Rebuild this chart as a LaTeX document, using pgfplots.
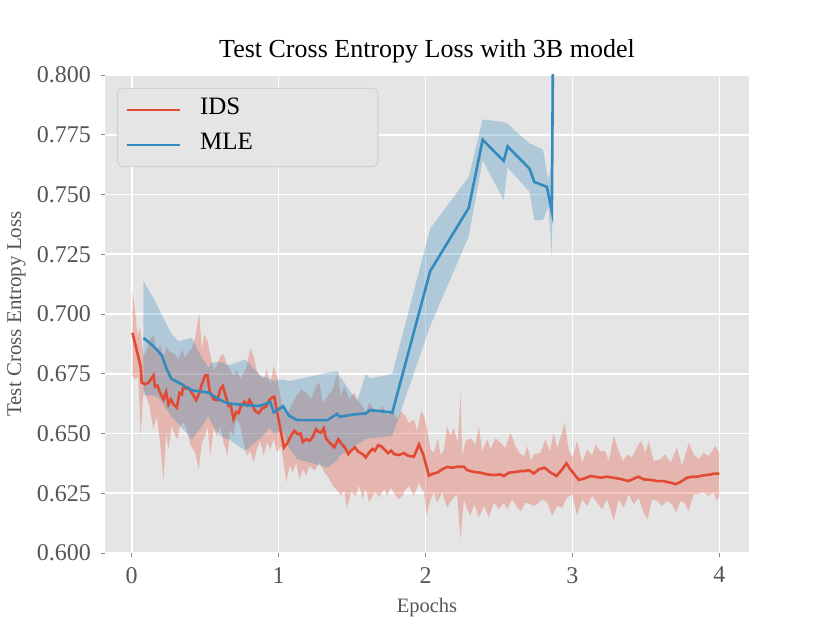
\documentclass[border=0pt]{standalone}
\usepackage{fontspec}
\setmainfont{Liberation Serif}
\usepackage{pgfplots}
\pgfplotsset{compat=1.18}
\usepgfplotslibrary{fillbetween}
\definecolor{axbg}{HTML}{E5E5E5}
\definecolor{idsred}{HTML}{E24A33}
\definecolor{mleblue}{HTML}{348ABD}
\definecolor{tickgray}{HTML}{555555}
\begin{document}
\begin{tikzpicture}
\begin{axis}[
  width=644bp, height=478bp, scale only axis,
  xmin=-0.182, xmax=4.202, ymin=0.6, ymax=0.8,
  axis background/.style={fill=axbg},
  axis line style={draw=none},
  grid=major, major grid style={white, line width=1.6bp},
  tick align=outside, major tick length=4bp,
  tick style={tickgray!70, line width=0.8bp},
  xtick pos=bottom, ytick pos=left,
  xtick={0,1,2,3,4}, xticklabels={0,1,2,3,4},
  ytick={0.6,0.625,0.65,0.675,0.7,0.725,0.75,0.775,0.8},
  yticklabels={0.600,0.625,0.650,0.675,0.700,0.725,0.750,0.775,0.800},
  xticklabel style={font=\fontsize{24bp}{28bp}\selectfont, text=tickgray, inner sep=0pt, anchor=north, yshift=-10bp},
  yticklabel style={font=\fontsize{24bp}{28bp}\selectfont, text=tickgray, inner sep=0pt, anchor=east, xshift=-10bp},
  title={Test Cross Entropy Loss with 3B model},
  title style={font=\fontsize{26bp}{30bp}\selectfont, at={(0.5,1.0231)}, anchor=base, inner sep=0pt},
  xlabel={Epochs},
  xlabel style={font=\fontsize{20.5bp}{24bp}\selectfont, text=tickgray, at={(0.5,-0.1255)}, anchor=base, inner sep=0pt},
  ylabel={Test Cross Entropy Loss},
  ylabel style={font=\fontsize{21bp}{24bp}\selectfont, text=tickgray, at={(-0.1304,0.5)}, anchor=base, inner sep=0pt},
  legend cell align=left,
  legend style={at={(0.0186,0.9728)}, anchor=north west, fill=axbg, draw=black!18, line width=1bp,
    rounded corners=5bp, font=\fontsize{25bp}{30bp}\selectfont, inner xsep=8bp, inner ysep=4bp,
    nodes={inner xsep=0pt, inner ysep=5.5bp, text height=16.5bp, text depth=7.5bp},
    /tikz/every odd column/.append style={column sep=19bp}},
  legend image code/.code={\draw[#1, line width=2.6bp] (0bp,0bp) -- (53bp,0bp);},
]
% IDS band
\addplot[name path=idsU, draw=none, forget plot] coordinates {
(0.005,0.7094)(0.023,0.7018)(0.039,0.6907)(0.052,0.6942)(0.061,0.6921)(0.080,0.6824)(0.102,0.6851)(0.125,0.6893)(0.148,0.6914)(0.170,0.6838)(0.193,0.6872)(0.216,0.6824)(0.239,0.6865)(0.261,0.6838)(0.284,0.6838)(0.318,0.6810)(0.341,0.6851)(0.364,0.6817)(0.386,0.6838)(0.409,0.6858)(0.432,0.6900)(0.459,0.7004)(0.477,0.6851)(0.493,0.6914)(0.516,0.6886)(0.534,0.6831)(0.557,0.6768)(0.580,0.6782)(0.602,0.6824)(0.625,0.6831)(0.648,0.6789)(0.670,0.6768)(0.693,0.6740)(0.716,0.6768)(0.739,0.6726)(0.761,0.6754)(0.784,0.6782)(0.807,0.6858)(0.830,0.6824)(0.852,0.6761)(0.875,0.6740)(0.898,0.6726)(0.920,0.6768)(0.943,0.6706)(0.966,0.6782)(0.977,0.6761)(0.995,0.6726)(1.018,0.6629)(1.052,0.6574)(1.086,0.6615)(1.120,0.6657)(1.153,0.6685)(1.187,0.6671)(1.221,0.6643)(1.255,0.6699)(1.278,0.6713)(1.300,0.6629)(1.334,0.6657)(1.368,0.6685)(1.402,0.6754)(1.424,0.6657)(1.447,0.6699)(1.481,0.6643)(1.515,0.6671)(1.542,0.6636)(1.571,0.6615)(1.594,0.6587)(1.616,0.6629)(1.650,0.6601)(1.673,0.6587)(1.707,0.6615)(1.740,0.6574)(1.774,0.6601)(1.808,0.6560)(1.830,0.6593)(1.864,0.6572)(1.887,0.6544)(1.921,0.6558)(1.943,0.6510)(1.970,0.6593)(1.993,0.6570)(2.011,0.6517)(2.034,0.6433)(2.057,0.6419)(2.084,0.6480)(2.102,0.6410)(2.125,0.6430)(2.147,0.6530)(2.170,0.6490)(2.193,0.6524)(2.220,0.6460)(2.238,0.6670)(2.250,0.6406)(2.272,0.6468)(2.306,0.6480)(2.340,0.6454)(2.363,0.6530)(2.385,0.6426)(2.420,0.6475)(2.442,0.6433)(2.476,0.6480)(2.510,0.6461)(2.544,0.6440)(2.578,0.6503)(2.612,0.6447)(2.646,0.6413)(2.673,0.6406)(2.692,0.6447)(2.719,0.6385)(2.737,0.6413)(2.782,0.6419)(2.816,0.6475)(2.846,0.6426)(2.873,0.6503)(2.896,0.6440)(2.918,0.6480)(2.946,0.6544)(2.975,0.6433)(2.998,0.6399)(3.032,0.6468)(3.066,0.6378)(3.100,0.6433)(3.134,0.6406)(3.156,0.6454)(3.190,0.6426)(3.224,0.6426)(3.247,0.6385)(3.281,0.6490)(3.315,0.6426)(3.345,0.6385)(3.372,0.6413)(3.406,0.6399)(3.444,0.6447)(3.467,0.6468)(3.497,0.6419)(3.519,0.6468)(3.553,0.6385)(3.599,0.6392)(3.633,0.6413)(3.667,0.6378)(3.712,0.6440)(3.746,0.6364)(3.792,0.6461)(3.825,0.6413)(3.859,0.6392)(3.893,0.6419)(3.927,0.6406)(3.973,0.6447)(4.000,0.6420)
};
\addplot[name path=idsL, draw=none, forget plot] coordinates {
(0.005,0.6740)(0.023,0.6726)(0.045,0.6740)(0.061,0.6490)(0.080,0.6685)(0.098,0.6657)(0.120,0.6615)(0.148,0.6518)(0.170,0.6574)(0.193,0.6463)(0.216,0.6303)(0.234,0.6504)(0.250,0.6435)(0.273,0.6532)(0.295,0.6490)(0.311,0.6476)(0.330,0.6532)(0.352,0.6546)(0.375,0.6518)(0.400,0.6450)(0.432,0.6420)(0.456,0.6351)(0.477,0.6463)(0.500,0.6490)(0.516,0.6532)(0.534,0.6407)(0.557,0.6518)(0.580,0.6490)(0.602,0.6532)(0.625,0.6463)(0.652,0.6407)(0.670,0.6518)(0.693,0.6490)(0.711,0.6560)(0.739,0.6532)(0.761,0.6463)(0.784,0.6407)(0.807,0.6428)(0.830,0.6379)(0.852,0.6435)(0.875,0.6469)(0.898,0.6407)(0.920,0.6463)(0.943,0.6435)(0.966,0.6476)(0.989,0.6421)(1.018,0.6449)(1.052,0.6296)(1.075,0.6365)(1.097,0.6338)(1.120,0.6379)(1.142,0.6310)(1.165,0.6351)(1.187,0.6324)(1.210,0.6365)(1.244,0.6344)(1.278,0.6379)(1.312,0.6338)(1.345,0.6310)(1.368,0.6282)(1.390,0.6268)(1.424,0.6240)(1.447,0.6261)(1.465,0.6185)(1.492,0.6254)(1.526,0.6240)(1.548,0.6282)(1.571,0.6226)(1.594,0.6268)(1.616,0.6213)(1.639,0.6240)(1.661,0.6254)(1.684,0.6233)(1.718,0.6268)(1.740,0.6240)(1.763,0.6275)(1.797,0.6240)(1.819,0.6226)(1.842,0.6240)(1.864,0.6267)(1.887,0.6280)(1.921,0.6239)(1.955,0.6294)(1.989,0.6253)(2.007,0.6156)(2.034,0.6225)(2.057,0.6253)(2.079,0.6211)(2.113,0.6253)(2.147,0.6190)(2.181,0.6225)(2.215,0.6246)(2.238,0.6058)(2.261,0.6225)(2.283,0.6183)(2.306,0.6156)(2.333,0.6204)(2.363,0.6149)(2.397,0.6197)(2.431,0.6149)(2.465,0.6211)(2.499,0.6183)(2.533,0.6211)(2.556,0.6183)(2.590,0.6225)(2.624,0.6190)(2.651,0.6176)(2.680,0.6211)(2.714,0.6204)(2.737,0.6197)(2.760,0.6204)(2.794,0.6225)(2.828,0.6211)(2.862,0.6156)(2.896,0.6197)(2.930,0.6190)(2.964,0.6232)(2.998,0.6246)(3.032,0.6156)(3.066,0.6225)(3.100,0.6197)(3.134,0.6239)(3.168,0.6211)(3.202,0.6183)(3.236,0.6225)(3.281,0.6135)(3.315,0.6225)(3.349,0.6190)(3.383,0.6246)(3.417,0.6204)(3.451,0.6232)(3.485,0.6169)(3.512,0.6142)(3.542,0.6225)(3.576,0.6218)(3.610,0.6197)(3.644,0.6218)(3.678,0.6204)(3.707,0.6169)(3.735,0.6218)(3.762,0.6211)(3.791,0.6176)(3.825,0.6246)(3.859,0.6246)(3.893,0.6253)(3.927,0.6239)(3.961,0.6253)(3.984,0.6218)(4.000,0.6239)
};
\addplot[fill=idsred, fill opacity=0.3, draw=none, forget plot] fill between[of=idsU and idsL];
% MLE band
\addplot[name path=mleU, draw=none, forget plot] coordinates {
(0.080,0.7136)(0.136,0.7080)(0.182,0.7025)(0.266,0.6921)(0.318,0.6886)(0.409,0.6900)(0.466,0.6830)(0.523,0.6775)(0.545,0.6796)(0.602,0.6800)(0.659,0.6785)(0.773,0.6810)(0.875,0.6742)(0.943,0.6728)(0.967,0.6720)(1.030,0.6726)(1.070,0.6720)(1.126,0.6726)(1.332,0.6754)(1.402,0.6761)(1.415,0.6740)(1.535,0.6636)(1.594,0.6750)(1.622,0.6730)(1.774,0.6750)(2.032,0.7358)(2.294,0.7574)(2.389,0.7814)(2.532,0.7803)(2.559,0.7795)(2.708,0.7713)(2.740,0.7706)(2.799,0.7688)(2.837,0.7560)(2.860,0.7643)(2.873,0.8800)
};
\addplot[name path=mleL, draw=none, forget plot] coordinates {
(0.080,0.6660)(0.136,0.6660)(0.182,0.6650)(0.266,0.6575)(0.318,0.6540)(0.409,0.6475)(0.466,0.6520)(0.523,0.6574)(0.545,0.6540)(0.602,0.6490)(0.659,0.6476)(0.773,0.6428)(0.875,0.6480)(0.943,0.6525)(0.967,0.6500)(1.030,0.6510)(1.070,0.6440)(1.126,0.6393)(1.332,0.6358)(1.402,0.6390)(1.415,0.6407)(1.535,0.6455)(1.594,0.6476)(1.622,0.6480)(1.774,0.6490)(2.032,0.6950)(2.294,0.7324)(2.389,0.7643)(2.532,0.7476)(2.559,0.7613)(2.708,0.7511)(2.740,0.7393)(2.799,0.7393)(2.837,0.7450)(2.860,0.7240)(2.873,0.8400)
};
\addplot[fill=mleblue, fill opacity=0.3, draw=none, forget plot] fill between[of=mleU and mleL];
% IDS mean
\addplot[idsred, line width=2.6bp] coordinates {
(0.005,0.6921)(0.061,0.6780)(0.068,0.6713)(0.091,0.6706)(0.114,0.6713)(0.148,0.6743)(0.159,0.6696)(0.175,0.6700)(0.193,0.6670)(0.216,0.6643)(0.234,0.6674)(0.250,0.6622)(0.266,0.6643)(0.284,0.6622)(0.307,0.6608)(0.325,0.6670)(0.341,0.6664)(0.352,0.6699)(0.370,0.6688)(0.386,0.6692)(0.409,0.6670)(0.439,0.6640)(0.461,0.6670)(0.477,0.6706)(0.500,0.6743)(0.516,0.6743)(0.530,0.6678)(0.557,0.6643)(0.584,0.6640)(0.602,0.6685)(0.620,0.6699)(0.643,0.6650)(0.659,0.6615)(0.675,0.6615)(0.693,0.6560)(0.711,0.6590)(0.727,0.6585)(0.743,0.6615)(0.766,0.6632)(0.784,0.6618)(0.802,0.6640)(0.818,0.6622)(0.841,0.6594)(0.864,0.6585)(0.886,0.6604)(0.916,0.6613)(0.939,0.6643)(0.955,0.6650)(0.970,0.6654)(0.995,0.6574)(1.036,0.6442)(1.063,0.6463)(1.090,0.6497)(1.108,0.6511)(1.131,0.6497)(1.149,0.6500)(1.165,0.6465)(1.187,0.6476)(1.210,0.6469)(1.233,0.6487)(1.255,0.6518)(1.271,0.6507)(1.289,0.6504)(1.307,0.6521)(1.323,0.6479)(1.345,0.6463)(1.379,0.6442)(1.406,0.6476)(1.436,0.6451)(1.451,0.6442)(1.474,0.6414)(1.492,0.6428)(1.519,0.6442)(1.542,0.6424)(1.571,0.6414)(1.594,0.6400)(1.616,0.6421)(1.639,0.6435)(1.655,0.6428)(1.677,0.6451)(1.700,0.6446)(1.718,0.6435)(1.745,0.6418)(1.767,0.6428)(1.786,0.6414)(1.819,0.6410)(1.853,0.6418)(1.880,0.6407)(1.921,0.6403)(1.955,0.6454)(1.984,0.6413)(2.023,0.6324)(2.057,0.6333)(2.079,0.6336)(2.113,0.6350)(2.147,0.6360)(2.181,0.6357)(2.215,0.6361)(2.261,0.6361)(2.283,0.6347)(2.329,0.6339)(2.374,0.6336)(2.420,0.6329)(2.465,0.6326)(2.510,0.6329)(2.533,0.6322)(2.567,0.6336)(2.612,0.6339)(2.646,0.6343)(2.680,0.6343)(2.703,0.6347)(2.737,0.6333)(2.771,0.6350)(2.810,0.6357)(2.846,0.6339)(2.891,0.6322)(2.930,0.6350)(2.959,0.6375)(2.986,0.6350)(3.043,0.6306)(3.077,0.6311)(3.122,0.6322)(3.156,0.6319)(3.190,0.6315)(3.236,0.6319)(3.281,0.6315)(3.338,0.6308)(3.383,0.6301)(3.417,0.6311)(3.451,0.6319)(3.485,0.6308)(3.531,0.6306)(3.576,0.6301)(3.621,0.6301)(3.644,0.6297)(3.671,0.6294)(3.701,0.6288)(3.735,0.6297)(3.780,0.6315)(3.814,0.6319)(3.848,0.6319)(3.893,0.6325)(3.939,0.6328)(3.961,0.6332)(4.000,0.6332)
};
\addlegendentry{\makebox[170bp][l]{IDS}}
% MLE mean
\addplot[mleblue, line width=2.6bp] coordinates {
(0.080,0.6900)(0.136,0.6872)(0.170,0.6851)(0.205,0.6826)(0.239,0.6768)(0.270,0.6729)(0.300,0.6719)(0.341,0.6706)(0.375,0.6692)(0.416,0.6680)(0.466,0.6676)(0.523,0.6671)(0.557,0.6657)(0.602,0.6640)(0.655,0.6626)(0.716,0.6622)(0.784,0.6618)(0.870,0.6615)(0.920,0.6626)(0.943,0.6632)(0.967,0.6588)(1.030,0.6614)(1.070,0.6575)(1.126,0.6556)(1.332,0.6556)(1.397,0.6582)(1.415,0.6570)(1.505,0.6579)(1.594,0.6584)(1.622,0.6598)(1.774,0.6588)(2.032,0.7180)(2.294,0.7444)(2.389,0.7729)(2.532,0.7640)(2.559,0.7701)(2.708,0.7608)(2.740,0.7553)(2.826,0.7532)(2.860,0.7428)(2.873,0.8600)
};
\addlegendentry{\makebox[170bp][l]{MLE}}
\end{axis}
\path (current axis.south west) ++(-105bp,-70bp) rectangle ++(830bp,623bp);
\end{tikzpicture}
\end{document}
